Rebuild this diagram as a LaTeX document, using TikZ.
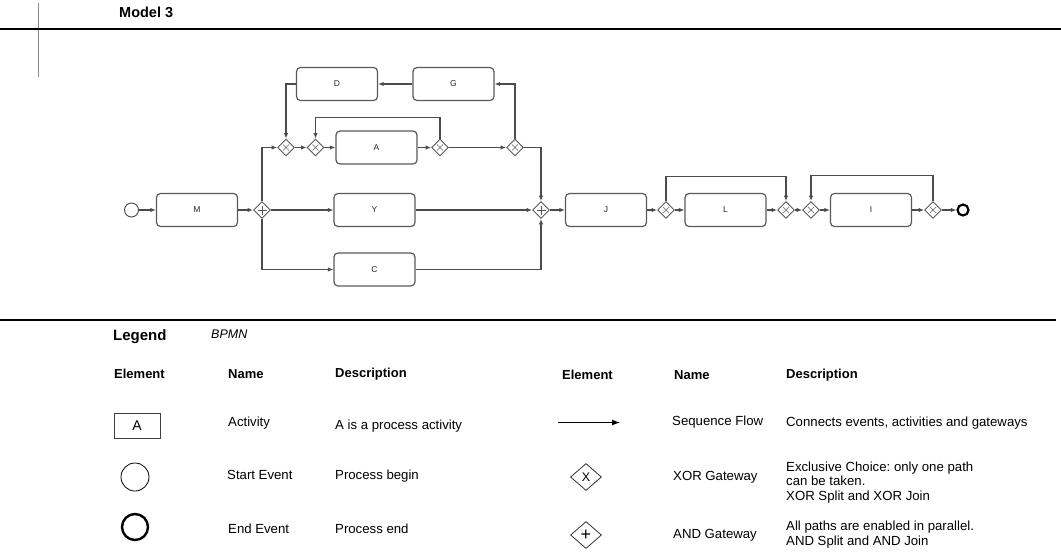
\documentclass[tikz,border=0pt]{standalone}
\usepackage{fontspec}
\setmainfont{Liberation Sans}
\usetikzlibrary{shapes.geometric,arrows.meta}
\frenchspacing
\newcommand\legfont{\fontsize{13.2}{14.6}\selectfont}
\begin{document}
\begin{tikzpicture}[x=1pt,y=-1pt,
 act/.style={draw=black!65, line width=1.2pt, rounded corners=4pt, minimum width=81pt, minimum height=33pt, inner sep=0pt, font=\fontsize{8.5}{9}\selectfont, text=black!85},
 gw/.style={diamond, draw=black!65, line width=0.9pt, minimum width=17pt, minimum height=17pt, inner sep=0pt, fill=white},
 xorgw/.style={gw, path picture={\draw[black!60,line width=0.6pt] ([shift={(-3pt,-3pt)}]path picture bounding box.center) -- ([shift={(3pt,3pt)}]path picture bounding box.center) ([shift={(-3pt,3pt)}]path picture bounding box.center) -- ([shift={(3pt,-3pt)}]path picture bounding box.center);}},
 andgw/.style={gw, path picture={\draw[black!65,line width=0.8pt] ([shift={(-4.5pt,0pt)}]path picture bounding box.center) -- ([shift={(4.5pt,0pt)}]path picture bounding box.center) ([shift={(0pt,-4.5pt)}]path picture bounding box.center) -- ([shift={(0pt,4.5pt)}]path picture bounding box.center);}},
 flow/.style={draw=black!70, line width=1.1pt, -{Latex[length=5.5pt,width=4.5pt]}},
 ev/.style={circle, draw=black!70, line width=0.9pt, minimum size=14pt, inner sep=0pt},
 endev/.style={circle, draw=black, line width=2.2pt, minimum size=11pt, inner sep=0pt},
 lt/.style={anchor=west, inner sep=0pt, font=\legfont, align=left},
 lh/.style={anchor=west, inner sep=0pt, font=\bfseries\fontsize{13}{14}\selectfont},
 ldia/.style={diamond, draw=black!80, line width=0.8pt, minimum width=31pt, minimum height=27pt, inner sep=0pt}
]
\useasboundingbox (0,0) rectangle (1061,558);

% header
\node[anchor=west, inner sep=0pt, font=\bfseries\fontsize{14.5}{15}\selectfont] (title) at (119,12) {Model 3};
\draw[black!45, line width=1pt] (38,3) -- (38,77);
\draw[black, line width=1.2pt] (0,29) -- (1061,29);
\draw[black, line width=1.2pt] (0,320) -- (1056,320);

% process model
\node[ev] (s) at (131.5,210) {};
\node[act] (M) at (197,210) {M};
\node[andgw] (g1) at (262,210) {};
\node[act] (Y) at (374.5,210) {Y};
\node[act] (C) at (374.5,269.5) {C};
\node[xorgw] (x1) at (286,147.5) {};
\node[xorgw] (x2) at (315.5,147.5) {};
\node[act] (A) at (376.5,147.5) {A};
\node[xorgw] (x3) at (440,147.5) {};
\node[xorgw] (x4) at (515,147.5) {};
\node[act] (D) at (337,84) {D};
\node[act] (G) at (453.5,84) {G};
\node[andgw] (g2) at (541,210) {};
\node[act] (J) at (606,210) {J};
\node[xorgw] (x5) at (666,210) {};
\node[act] (L) at (725.5,210) {L};
\node[xorgw] (x6) at (786,210) {};
\node[xorgw] (x7) at (811,210) {};
\node[act] (I) at (871,210) {I};
\node[xorgw] (x8) at (933,210) {};
\node[endev] (e) at (963,210) {};

\draw[flow] (s) -- (M);
\draw[flow] (M) -- (g1);
\draw[flow] (g1) -- (Y);
\draw[flow] (g1.south) |- (C.west);
\draw[flow] (g1.north) |- (x1.west);
\draw[flow] (D.west) -| (x1.north);
\draw[flow] (x1) -- (x2);
\draw[flow] (x2) -- (A);
\draw[flow] (A) -- (x3);
\draw[flow] (x3.north) -- ++(0,-21) -| (x2.north);
\draw[flow] (x3) -- (x4);
\draw[flow] (x4.north) |- (G.east);
\draw[flow] (G) -- (D);
\draw[flow] (x4.east) -| (g2.north);
\draw[flow] (Y) -- (g2);
\draw[flow] (C.east) -| (g2.south);
\draw[flow] (g2) -- (J);
\draw[flow] (J) -- (x5);
\draw[flow] (x5) -- (L);
\draw[flow] (x5.north) -- ++(0,-25) -| (x6.north);
\draw[flow] (L) -- (x6);
\draw[flow] (x6) -- (x7);
\draw[flow] (x7) -- (I);
\draw[flow] (I) -- (x8);
\draw[flow] (x8.north) -- ++(0,-25.5) -| (x7.north);
\draw[flow] (x8) -- (e);

% legend
\node[anchor=west, inner sep=0pt, font=\bfseries\fontsize{15}{16}\selectfont] (leg) at (113,337) {Legend};
\node[anchor=west, inner sep=0pt, font=\itshape\fontsize{12.5}{13}\selectfont] (bpmn) at (211,334) {BPMN};

\node[lh] (h1) at (114,374) {Element};
\node[lh] (h2) at (228,374) {Name};
\node[lh] (h3) at (335,374) {Description};
\node[lh] (h4) at (562,375) {Element};
\node[lh] (h5) at (674,375) {Name};
\node[lh] (h6) at (786,375) {Description};

\node[draw=black!75, line width=0.9pt, minimum width=46pt, minimum height=25pt, inner sep=0pt, font=\fontsize{14}{14}\selectfont] (la) at (137,425.5) {A};
\node[lt] (na) at (228,423.5) {Activity};
\node[lt] (da) at (335,426) {A is a process activity};

\node[circle, draw=black, line width=0.8pt, minimum size=28pt, inner sep=0pt] (ls) at (135,477) {};
\node[lt] (ns) at (227,475) {Start Event};
\node[lt] (ds) at (335,476) {Process begin};

\node[circle, draw=black, line width=2.4pt, minimum size=26pt, inner sep=0pt] (le) at (135,527) {};
\node[lt] (ne) at (228,529) {End Event};
\node[lt] (de) at (335,529) {Process end};

\coordinate (fa) at (558,422.5);
\coordinate (fb) at (620,422.5);
\draw[black, line width=1pt, -{Latex[length=8pt,width=6pt]}] (fa) -- (fb);
\node[lt] (nf) at (672,422) {Sequence Flow};
\node[lt] (df) at (786,423) {Connects events, activities and gateways};

\node[ldia, font=\fontsize{12.5}{12.5}\selectfont] (lx) at (586,477) {X};
\node[lt] (nx) at (673,477) {XOR Gateway};
\node[lt] (dx) at (786,482.5) {Exclusive Choice: only one path\\can be taken.\\XOR Split and XOR Join};

\node[ldia, font=\fontsize{18}{18}\selectfont] (lp) at (586,535) {+};
\node[lt] (np) at (673,535) {AND Gateway};
\node[lt] (dp) at (786,534.5) {All paths are enabled in parallel.\\AND Split and AND Join};
\end{tikzpicture}
\end{document}
